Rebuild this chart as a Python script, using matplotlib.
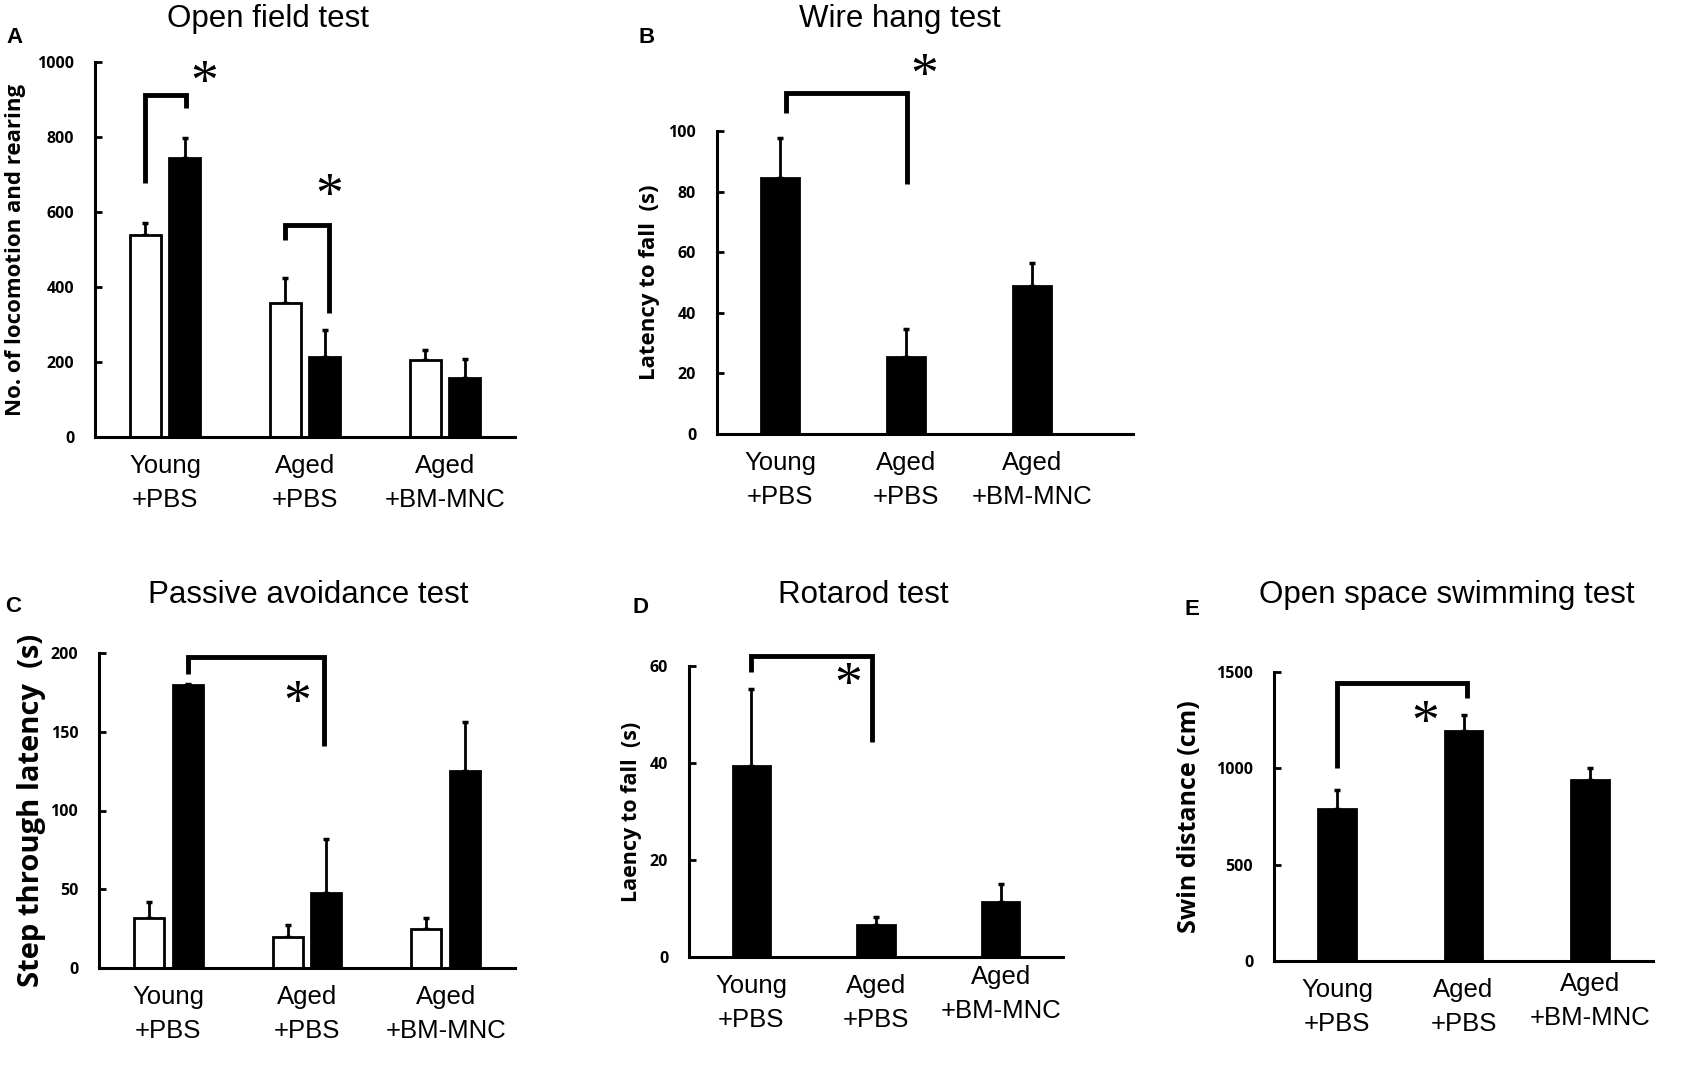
import matplotlib.pyplot as plt
import matplotlib.transforms as mtransforms
import numpy as np

W, H = 1700, 1070

groups = ["Young\n+PBS", "Aged\n+PBS", "Aged\n+BM-MNC"]

# A: open field (white / black bars)
open_white = [539, 357, 205]
open_white_err = [31, 67, 27]
open_black = [744, 213, 157]
open_black_err = [53, 72, 51]

# B: wire hang
wire = [84.5, 25.4, 48.8]
wire_err = [13.2, 9.3, 7.6]

# C: passive avoidance (white / black bars)
passive_white = [31.7, 19.7, 24.8]
passive_white_err = [10.2, 7.6, 6.9]
passive_black = [179.7, 47.6, 125.0]
passive_black_err = [0.8, 34.3, 31.0]

# D: rotarod
rotarod = [39.4, 6.6, 11.3]
rotarod_err = [15.9, 1.6, 3.7]

# E: open space swimming
swim = [789, 1194, 939]
swim_err = [98, 83, 62]

SANS = "Liberation Sans"
NUM = "Open Sans"

fig = plt.figure(figsize=(W / 100, H / 100), dpi=100)


def make_axes(left, right, y0, ytop, ymax, xlim, yticks):
    ax = fig.add_axes([left / W, 1 - y0 / H, (right - left) / W, (y0 - ytop) / H])
    ax.set_xlim(*xlim)
    ax.set_ylim(0, ymax)
    for s in ["top", "right"]:
        ax.spines[s].set_visible(False)
    for s in ["left", "bottom"]:
        ax.spines[s].set_linewidth(2.2)
    ax.set_yticks(yticks)
    ax.set_xticks(range(3))
    ax.set_xticklabels(groups, fontfamily=SANS, fontsize=18.5, linespacing=1.55)
    ax.tick_params(axis="x", length=0, pad=12)
    ax.tick_params(axis="y", direction="in", length=5, width=2, pad=15)
    for t in ax.get_yticklabels():
        t.set_fontfamily(NUM)
        t.set_fontweight("bold")
        t.set_fontsize(11.5)
    return ax


def lift_last_label(ax, px):
    lab = ax.get_xticklabels()[2]
    lab.set_transform(lab.get_transform() + mtransforms.Affine2D().translate(0, px))


def ylabel(ax, text, xpx, left, right, size):
    ax.set_ylabel(text, fontfamily=NUM, fontweight="bold", fontsize=size, va="center")
    ax.yaxis.set_label_coords((xpx - left) / (right - left), 0.5)


def bars(ax, x, vals, errs, width, white=False):
    fc = "white" if white else "black"
    ax.bar(x, vals, width, color=fc, edgecolor="black", linewidth=2, zorder=2)
    ax.errorbar(x, vals, yerr=[np.zeros(len(vals)), errs], fmt="none", ecolor="black",
                elinewidth=2, capsize=2.5, capthick=2.5, zorder=1)


def bracket(ax, x1, yb1, ytop, x2, yb2, star_x, star_y):
    ax.plot([x1, x1, x2, x2], [yb1, ytop, ytop, yb2], color="black", lw=3.5,
            solid_joinstyle="miter", solid_capstyle="butt", clip_on=False, zorder=3)
    ax.annotate("*", (star_x, star_y), xytext=(0, -7), textcoords="offset points",
                fontfamily="Liberation Serif", fontsize=40,
                ha="center", va="center", annotation_clip=False)


def title(xc, yb, text, letter, lx, ly):
    fig.text(xc / W, 1 - yb / H, text, fontfamily=SANS, fontsize=22.5, ha="center", va="baseline")
    fig.text(lx / W, 1 - ly / H, letter, fontfamily=SANS, fontsize=16, fontweight="bold",
             ha="left", va="baseline")


x = np.arange(3)

# A
ax = make_axes(95, 515, 437, 62, 1000, (-0.5, 2.5), [0, 200, 400, 600, 800, 1000])
bars(ax, x - 0.14, open_white, open_white_err, 0.22, white=True)
bars(ax, x + 0.14, open_black, open_black_err, 0.22)
bracket(ax, -0.14, 677, 912, 0.15, 877, 0.28, 965)
bracket(ax, 0.86, 525, 565, 1.17, 330, 1.17, 664)
ylabel(ax, "No. of locomotion and rearing", 16, 95, 515, 16)
title(268, 27, "Open field test", "A", 6, 43)

# B
ax = make_axes(717, 1133, 434, 131, 100, (-0.5, 2.8), [0, 20, 40, 60, 80, 100])
bars(ax, x, wire, wire_err, 0.30)
bracket(ax, 0.05, 106, 112.5, 1.01, 82.5, 1.14, 120.8)
ylabel(ax, "Latency to fall  (s)", 649, 717, 1133, 16)
title(900, 27, "Wire hang test", "B", 638, 43)

# C
ax = make_axes(99, 515, 968, 653, 200, (-0.5, 2.5), [0, 50, 100, 150, 200])
bars(ax, x - 0.14, passive_white, passive_white_err, 0.216, white=True)
bars(ax, x + 0.14, passive_black, passive_black_err, 0.216)
bracket(ax, 0.14, 186.7, 197.5, 1.12, 141, 0.93, 173)
ylabel(ax, "Step through latency  (s)", 32, 99, 515, 21)
title(308, 603, "Passive avoidance test", "C", 5, 612)

# D
ax = make_axes(689, 1063, 957, 666, 60, (-0.5, 2.5), [0, 20, 40, 60])
bars(ax, x, rotarod, rotarod_err, 0.30)
bracket(ax, 0.0, 58.8, 62, 0.97, 44.3, 0.78, 57.7)
ylabel(ax, "Laency to fall  (s)", 632, 689, 1063, 15.5)
title(863, 603, "Rotarod test", "D", 633, 613)
lift_last_label(ax, 9)

# E
ax = make_axes(1274, 1653, 961, 672, 1500, (-0.5, 2.5), [0, 500, 1000, 1500])
bars(ax, x, swim, swim_err, 0.30)
bracket(ax, 0.0, 1001, 1443, 1.03, 1365, 0.70, 1277)
ylabel(ax, "Swin distance (cm)", 1189, 1274, 1653, 18)
title(1447, 603, "Open space swimming test", "E", 1185, 615)
lift_last_label(ax, 6)

fig.savefig("out.png", dpi=100)
